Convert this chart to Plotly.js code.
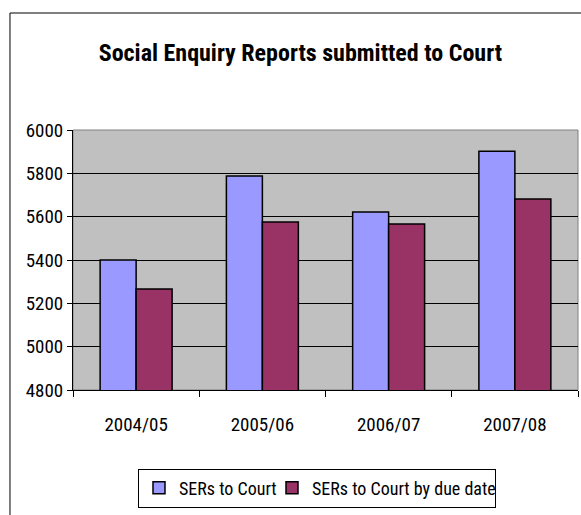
<!DOCTYPE html>
<html><head><meta charset="utf-8">
<script src="https://cdn.plot.ly/plotly-3.0.1.min.js"></script>
<style>html,body{margin:0;padding:0;background:#fff}#chart{width:581px;height:515px}</style>
</head><body><div id="chart"></div>
<script>
const categories = ["2004/05", "2005/06", "2006/07", "2007/08"];
const sersToCourt = [5400, 5788, 5622, 5902];
const sersByDueDate = [5266, 5575, 5566, 5681];
const seriesNames = ["SERs to Court", "SERs to Court by due date"];
const yTicks = [4800, 5000, 5200, 5400, 5600, 5800, 6000];

const FONT = "Roboto Condensed, Liberation Sans, Arial, sans-serif";
const traces = [
  {type: "bar", name: seriesNames[0], x: categories, y: sersToCourt, legendwidth: 88,
   marker: {color: "#9999FF", line: {color: "#000", width: 1.5}}},
  {type: "bar", name: seriesNames[1], x: categories, y: sersByDueDate, legendwidth: 178,
   marker: {color: "#993366", line: {color: "#000", width: 1.5}}}
];
const layout = {
  width: 581, height: 515,
  margin: {l: 73, r: 3, t: 130, b: 125},
  paper_bgcolor: "#fff", plot_bgcolor: "#C0C0C0",
  barmode: "group", bargap: 0.43, bargroupgap: 0,
  showlegend: true,
  title: {text: "Social Enquiry Reports submitted to Court", font: {family: FONT, size: 24, color: "#000", weight: "bold"},
          x: 0.517, xref: "container", xanchor: "center", y: 0.897, yref: "container", yanchor: "middle"},
  xaxis: {type: "category", showline: true, linecolor: "#000", linewidth: 1, ticks: "outside", tickson: "boundaries",
          ticklen: 6, tickcolor: "#000", tickfont: {family: FONT, size: 19, color: "#000"}, ticklabelstandoff: 17, showgrid: false},
  yaxis: {range: [4800, 6000], tickvals: yTicks, showline: true, linecolor: "#000", linewidth: 1, ticks: "outside",
          ticklen: 5, tickcolor: "#000", gridcolor: "#000", gridwidth: 1, zeroline: false,
          tickfont: {family: FONT, size: 19, color: "#000"}},
  legend: {orientation: "h", x: 0.1287, xanchor: "left", y: -0.302, yanchor: "top", bgcolor: "#fff",
           bordercolor: "#000", borderwidth: 1, font: {family: FONT, size: 18, color: "#000"}, traceorder: "normal",
           itemwidth: 30},
  shapes: [
    {type: "rect", xref: "paper", yref: "paper", x0: -0.1248, x1: 1.02, y0: -0.6, y1: 1.45,
     line: {color: "#000", width: 1}, fillcolor: "rgba(0,0,0,0)", layer: "below"},
    {type: "rect", xref: "paper", yref: "paper", x0: 0, x1: 1, y0: 0, y1: 1,
     line: {color: "#808080", width: 1}, fillcolor: "rgba(0,0,0,0)", layer: "below"}
  ]
};
Plotly.newPlot("chart", traces, layout, {displayModeBar: false, staticPlot: true});
</script></body></html>
